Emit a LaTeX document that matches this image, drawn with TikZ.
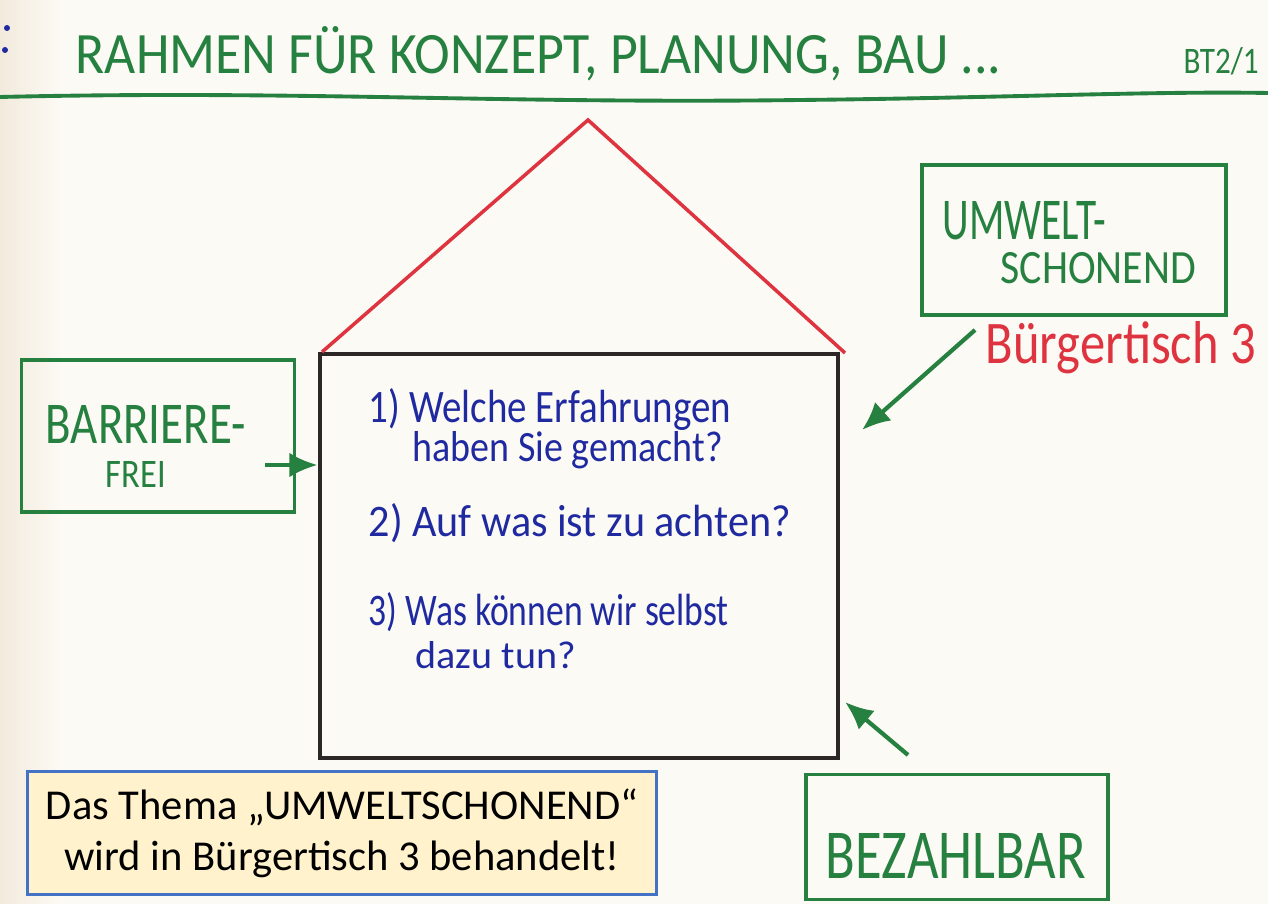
\documentclass[tikz,border=0pt]{standalone}
\usepackage{fontspec}
\setmainfont{Carlito}
\usetikzlibrary{arrows.meta,positioning}
\definecolor{papier}{RGB}{252,250,245}
\definecolor{papierrand}{RGB}{242,234,220}
\definecolor{stiftgruen}{RGB}{38,128,64}
\definecolor{stiftrot}{RGB}{222,52,64}
\definecolor{stiftblau}{RGB}{32,42,160}
\definecolor{stiftschwarz}{RGB}{45,38,38}
\definecolor{notizgelb}{RGB}{255,242,204}
\definecolor{notizrand}{RGB}{68,114,196}
% handschrift: text auf feste breite und hoehe ziehen
\newcommand{\hand}[3]{\resizebox{#1}{#2}{#3}}

\begin{document}
\begin{tikzpicture}[x=0.01cm,y=-0.01cm,
  kasten/.style={draw=stiftgruen,line width=1pt,inner sep=0pt},
  pfeil/.style={draw=stiftgruen,line width=1.2pt,-{Latex[length=8pt,width=7pt]}},
  schrift/.style={inner sep=0pt,anchor=base west}]
  \useasboundingbox (0,0) rectangle (1268,904);
  \fill[papier] (0,0) rectangle (1268,904);
  \shade[left color=papierrand,right color=papier] (0,0) rectangle (60,904);
  % kopfzeile
  \fill[stiftblau] (7,28) circle (3) (5,50) circle (3);
  \node[schrift,stiftgruen] (titel) at (75,74) {\hand{9.25cm}{0.47cm}{RAHMEN FÜR KONZEPT, PLANUNG, BAU ...}};
  \node[schrift,stiftgruen] (kennung) at (1183,74) {\hand{0.75cm}{0.26cm}{BT2/1}};
  \draw[stiftgruen,line width=1.1pt] (0,97) .. controls (300,90) and (500,104) .. (800,100)
    .. controls (1000,98) and (1150,91) .. (1268,93);
  % haus
  \node[draw=stiftschwarz,line width=1.3pt,minimum width=5.18cm,minimum height=4.04cm] (haus) at (579,556) {};
  \coordinate (first) at (588,120);
  \draw[stiftrot,line width=1pt] (322,352) -- (first) -- (845,353);
  \node[schrift,stiftblau] (frage1a) at (368,423) {\hand{3.62cm}{0.34cm}{1) Welche Erfahrungen}};
  \node[schrift,stiftblau] (frage1b) at (412,462) {\hand{3.1cm}{0.3cm}{haben Sie gemacht?}};
  \node[schrift,stiftblau] (frage2) at (368,537) {\hand{4.22cm}{0.33cm}{2) Auf was ist zu achten?}};
  \node[schrift,stiftblau] (frage3a) at (368,625) {\hand{3.6cm}{0.33cm}{3) Was können wir selbst}};
  \node[schrift,stiftblau] (frage3b) at (415,668) {\hand{1.6cm}{0.27cm}{dazu tun?}};
  % themenkaesten
  \node[kasten,minimum width=2.73cm,minimum height=1.52cm] (barriere) at (158,436) {};
  \node[schrift,stiftgruen] (barriere1) at (45,444) {\hand{2.0cm}{0.38cm}{BARRIERE-}};
  \node[schrift,stiftgruen] (barriere2) at (105,488) {\hand{0.6cm}{0.26cm}{FREI}};
  \node[kasten,minimum width=3.04cm,minimum height=1.5cm] (umwelt) at (1074,240) {};
  \node[schrift,stiftgruen] (umwelt1) at (942,240) {\hand{1.63cm}{0.38cm}{UMWELT-}};
  \node[schrift,stiftgruen] (umwelt2) at (1000,284) {\hand{1.95cm}{0.31cm}{SCHONEND}};
  \node[schrift,stiftrot] (tisch) at (985,364) {\hand{2.7cm}{0.42cm}{Bürgertisch 3}};
  \node[kasten,minimum width=3.02cm,minimum height=1.25cm] (bezahlbar) at (957,837) {};
  \node[schrift,stiftgruen] (bezahlbar1) at (825,878) {\hand{2.6cm}{0.45cm}{BEZAHLBAR}};
  % pfeile
  \coordinate (b1) at (265,465);
  \coordinate (u1) at (975,330);
  \coordinate (u2) at (862,430);
  \coordinate (z1) at (908,755);
  \coordinate (z2) at (845,702);
  \draw[pfeil] (b1) -- (haus.west |- b1);
  \draw[pfeil] (u1) -- (u2);
  \draw[pfeil] (z1) -- (z2);
  % hinweis
  \node[draw=notizrand,fill=notizgelb,line width=0.8pt,minimum width=6.29cm,minimum height=1.23cm,
    align=center,font=\fontsize{12.1}{14.4}\selectfont] (hinweis) at (342,833)
    {Das Thema „UMWELTSCHONEND“\\wird in Bürgertisch 3 behandelt!};
\end{tikzpicture}
\end{document}
